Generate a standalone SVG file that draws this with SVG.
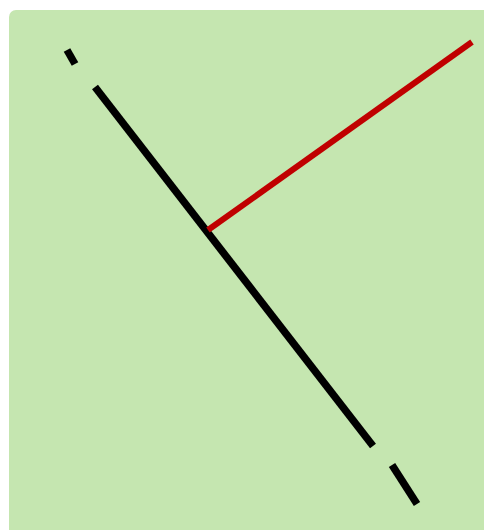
<svg xmlns="http://www.w3.org/2000/svg" width="484" height="530" viewBox="0 0 484 530">
<style>
.blk{stroke:#000;stroke-width:7.5;stroke-linecap:butt;fill:none}
.red{stroke:#c00000;stroke-width:6;fill:none}
</style>
<rect x="9" y="10" width="490" height="530" rx="7" fill="#c5e6b0"/>
<g id="connectors">
<line class="blk" x1="67" y1="50" x2="75" y2="64"/>
<line class="blk" x1="95" y1="87" x2="373" y2="446"/>
<line class="blk" x1="392" y1="465" x2="417" y2="504"/>
<line class="red" x1="208" y1="230" x2="472" y2="42"/>
</g>
</svg>
